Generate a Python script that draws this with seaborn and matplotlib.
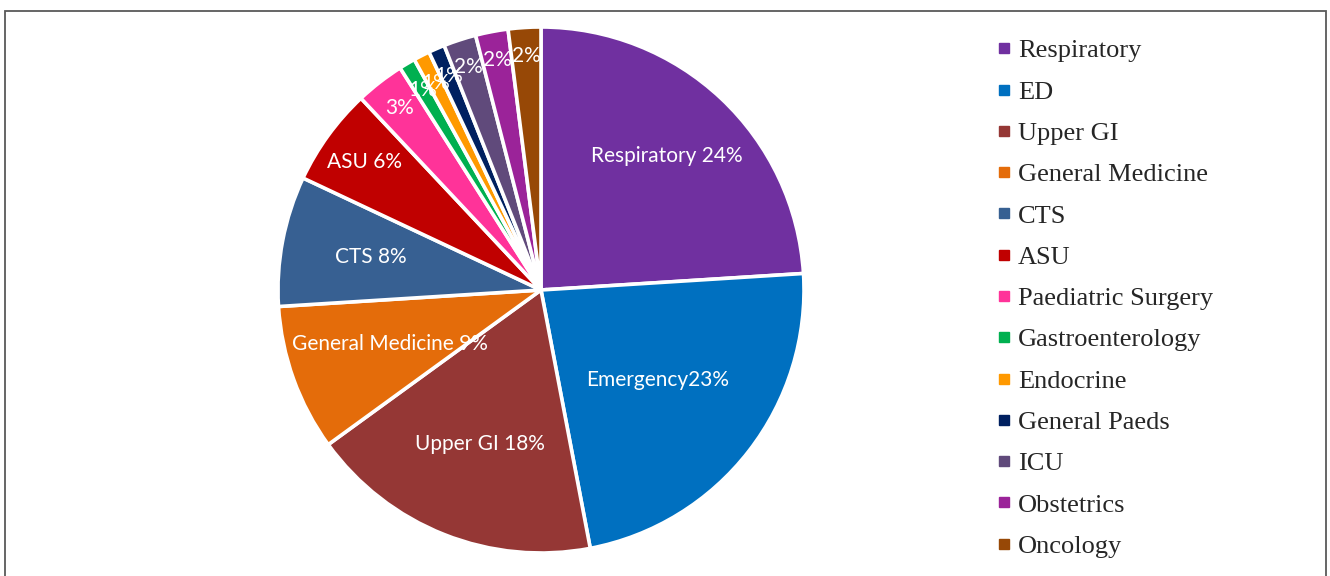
import matplotlib
matplotlib.use("Agg")
import matplotlib.pyplot as plt
from matplotlib.lines import Line2D
from matplotlib.patches import Rectangle
import numpy as np
import seaborn as sns

# Share of cases by specialty (percent)
specialties = ["Respiratory", "ED", "Upper GI", "General Medicine", "CTS", "ASU",
               "Paediatric Surgery", "Gastroenterology", "Endocrine", "General Paeds",
               "ICU", "Obstetrics", "Oncology"]
shares = [24, 23, 18, 9, 8, 6, 3, 1, 1, 1, 2, 2, 2]
slice_labels = ["Respiratory 24%", "Emergency23%", "Upper GI 18%", "General Medicine 9%",
                "CTS 8%", "ASU 6%", "3%", "1%", "1%", "1%", "2%", "2%", "2%"]
slice_colors = ["#7030A0", "#0070C0", "#953735", "#E46C0A", "#376092", "#C00000",
                "#FF3399", "#00B050", "#FF9900", "#002060", "#604A7B", "#9B2399", "#974806"]
# radial placement of each slice label (fraction of the radius)
label_radius = [0.70, 0.56, 0.63, 0.61, 0.66, 0.83, 0.875, 0.885, 0.885, 0.885, 0.89, 0.89, 0.89]

sns.set_theme(style="white")
palette = sns.color_palette(slice_colors)

W, H = 1330, 576
fig = plt.figure(figsize=(W / 100, H / 100), dpi=100)
fig.patch.set_facecolor("white")

# outer frame
fig.add_artist(Rectangle((4.5 / W, -0.05), (1326 - 4.5) / W, 1.05 - 10.5 / H,
                         transform=fig.transFigure, fill=False,
                         edgecolor="#595959", linewidth=1.3))

cx, cy, r = 541, 290, 263
ax = fig.add_axes([(cx - r) / W, (H - cy - r) / H, 2 * r / W, 2 * r / H])
wedges, _ = ax.pie(shares, colors=palette, startangle=90, counterclock=False,
                   radius=1.0, wedgeprops=dict(edgecolor="white", linewidth=2.6))
ax.set_xlim(-1, 1)
ax.set_ylim(-1, 1)
ax.axis("off")

for w, txt, rf in zip(wedges, slice_labels, label_radius):
    ang = np.deg2rad((w.theta1 + w.theta2) / 2)
    ax.text(rf * np.cos(ang), rf * np.sin(ang), txt, ha="center", va="center",
            color="white", fontsize=15, family=["Lato", "DejaVu Sans"])

handles = [Line2D([], [], marker="s", linestyle="none", markersize=7,
                  markerfacecolor=c, markeredgecolor=c) for c in palette]
fig.legend(handles, specialties, loc="upper left",
           bbox_to_anchor=(997 / W, 1 - 39 / H), frameon=False,
           prop=dict(family="Liberation Serif", size=19),
           handlelength=0.5, handletextpad=0.3, labelspacing=0.675,
           borderaxespad=0, borderpad=0)

fig.savefig("out.png", dpi=100)
